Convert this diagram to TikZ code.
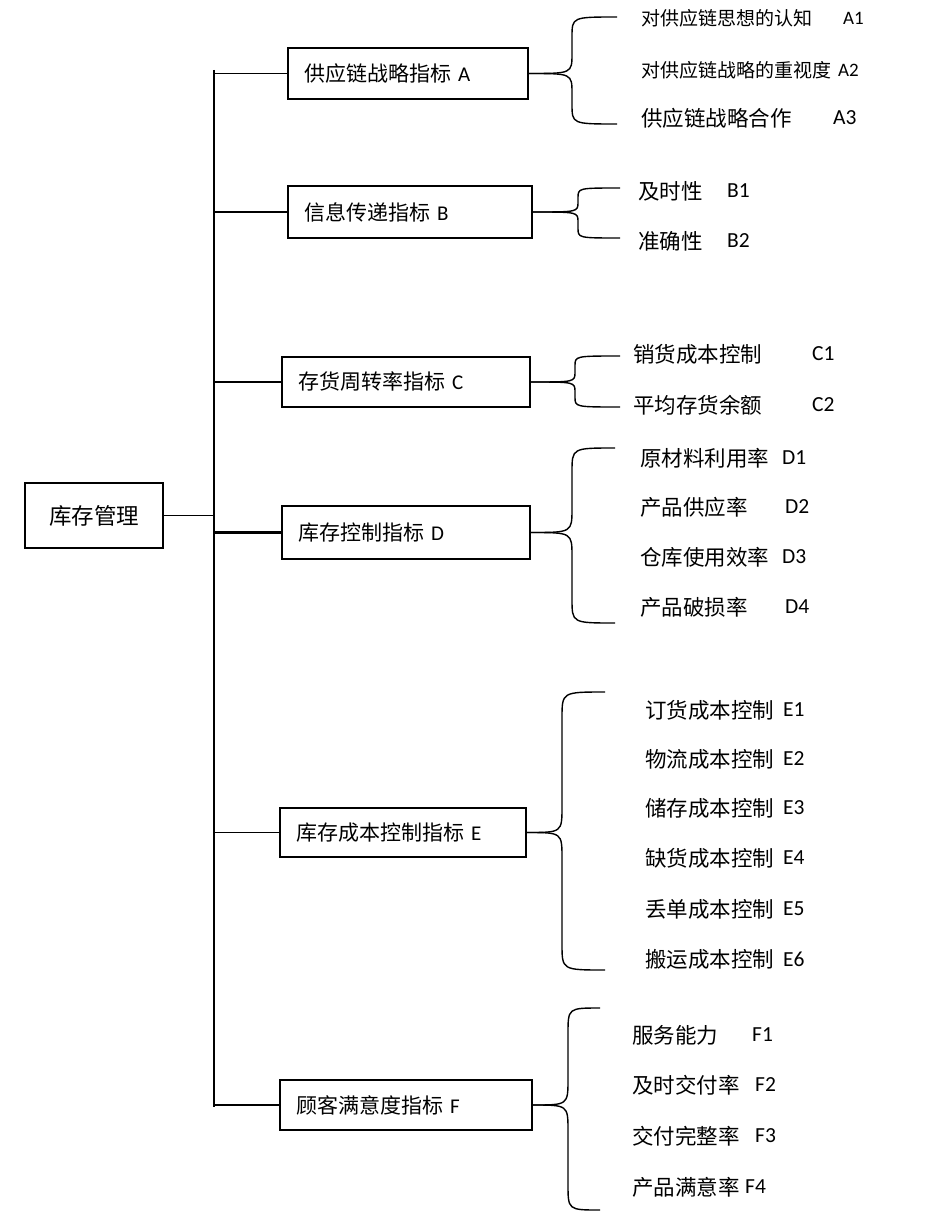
\documentclass[tikz,border=0pt]{standalone}
\usepackage{fontspec}
\setmainfont{Noto Sans CJK SC}
\newfontfamily\lat{Carlito}
\usetikzlibrary{calc}
\newcommand\bracefrom[6]{%
  \coordinate (bv) at (#2,0);
  \draw[conn] (#3,#4) .. controls (#2,#4) .. (#2,#4+#6) -- ([yshift=#6pt]bv |- #1.east) .. controls (bv |- #1.east) .. (#1.east);
  \draw[conn] (#3,#5) .. controls (#2,#5) .. (#2,#5-#6) -- ([yshift=-#6pt]bv |- #1.east) .. controls (bv |- #1.east) .. (#1.east);
}
\begin{document}
\begin{tikzpicture}[x=1pt,y=-1pt,
  box/.style={draw,line width=1.5pt,inner xsep=16pt,inner ysep=0pt,align=left,font=\fontsize{21}{25}\selectfont},
  conn/.style={line width=1.4pt},
  leaf/.style={anchor=west,inner sep=0pt,font=\fontsize{21.5}{25}\selectfont},
  smallleaf/.style={anchor=west,inner sep=0pt,font=\fontsize{19}{22}\selectfont},
  code/.style={anchor=west,inner sep=0pt,font=\fontsize{21.5}{25}\selectfont\lat}]
\useasboundingbox (0,0) rectangle (941,1223);

% root
\node[draw,line width=1.5pt,minimum width=138pt,minimum height=65pt,inner sep=0pt,font=\fontsize{22.5}{26}\selectfont] (root) at (94,515.5) {库存管理};

% level-1 boxes
\node[box,text width=208pt,minimum height=51pt] (A) at (408,73.5) {供应链战略指标 {\lat A}};
\node[box,line width=2.4pt,text width=212pt,minimum height=52pt] (B) at (410,212) {信息传递指标 {\lat B}};
\node[box,text width=216pt,minimum height=50pt] (C) at (406,382) {存货周转率指标 {\lat C}};
\node[box,text width=216pt,minimum height=53pt] (D) at (406,532.5) {库存控制指标 {\lat D}};
\node[box,text width=214pt,minimum height=49pt] (E) at (403,832.5) {库存成本控制指标 {\lat E}};
\node[box,text width=220pt,minimum height=50pt] (F) at (406,1105) {顾客满意度指标 {\lat F}};

% trunk
\coordinate (trunkTop) at (214,70);
\coordinate (trunkBot) at (214,1107);
\draw[conn] (trunkTop) -- (trunkBot);
\draw[conn] (root.east) -- (root.east -| trunkTop);
\draw[conn] (A.west) -- (A.west -| trunkTop);
\draw[conn] (B.west) -- (B.west -| trunkTop);
\draw[conn] (C.west) -- (C.west -| trunkTop);
\draw[conn,line width=2.2pt] (D.west) -- (D.west -| trunkTop);
\draw[conn] (E.west) -- (E.west -| trunkTop);
\draw[conn] (F.west) -- (F.west -| trunkTop);

% braces
\bracefrom{A}{572}{617}{17}{124}{20}
\bracefrom{B}{578}{620}{188}{238}{10}
\bracefrom{C}{575}{620}{356}{407}{10}
\bracefrom{D}{572}{615}{448}{623}{24}
\bracefrom{E}{562}{605}{692}{970}{26}
\bracefrom{F}{568}{600}{1008}{1210}{26}

% leaves A
\node[smallleaf] (a1) at (641,18) {对供应链思想的认知};
\node[code,font=\fontsize{19}{22}\selectfont\lat] (a1c) at (843,18) {A1};
\node[smallleaf] (a2) at (641,70) {对供应链战略的重视度};
\node[code,font=\fontsize{19}{22}\selectfont\lat] (a2c) at (838,70) {A2};
\node[leaf] (a3) at (641,118) {供应链战略合作};
\node[code] (a3c) at (833,118) {A3};
% leaves B
\node[leaf] (b1) at (638,191) {及时性};
\node[code] (b1c) at (727,191) {B1};
\node[leaf] (b2) at (638,241) {准确性};
\node[code] (b2c) at (727,241) {B2};
% leaves C
\node[leaf] (c1) at (633,354) {销货成本控制};
\node[code] (c1c) at (812,354) {C1};
\node[leaf] (c2) at (633,405) {平均存货余额};
\node[code] (c2c) at (812,405) {C2};
% leaves D
\node[leaf] (d1) at (640,458) {原材料利用率};
\node[code] (d1c) at (782,458) {D1};
\node[leaf] (d2) at (640,507) {产品供应率};
\node[code] (d2c) at (785,507) {D2};
\node[leaf] (d3) at (640,557) {仓库使用效率};
\node[code] (d3c) at (782,557) {D3};
\node[leaf] (d4) at (640,607) {产品破损率};
\node[code] (d4c) at (785,607) {D4};
% leaves E
\node[leaf] (e1) at (645,710) {订货成本控制};
\node[code] (e1c) at (783,710) {E1};
\node[leaf] (e2) at (645,759) {物流成本控制};
\node[code] (e2c) at (783,759) {E2};
\node[leaf] (e3) at (645,808) {储存成本控制};
\node[code] (e3c) at (783,808) {E3};
\node[leaf] (e4) at (645,858) {缺货成本控制};
\node[code] (e4c) at (783,858) {E4};
\node[leaf] (e5) at (645,909) {丢单成本控制};
\node[code] (e5c) at (783,909) {E5};
\node[leaf] (e6) at (645,959) {搬运成本控制};
\node[code] (e6c) at (783,959) {E6};
% leaves F
\node[leaf] (f1) at (632,1035) {服务能力};
\node[code] (f1c) at (752,1035) {F1};
\node[leaf] (f2) at (632,1085) {及时交付率};
\node[code] (f2c) at (755,1085) {F2};
\node[leaf] (f3) at (632,1136) {交付完整率};
\node[code] (f3c) at (755,1136) {F3};
\node[leaf] (f4) at (632,1187) {产品满意率};
\node[code] (f4c) at (745,1187) {F4};
\end{tikzpicture}
\end{document}
